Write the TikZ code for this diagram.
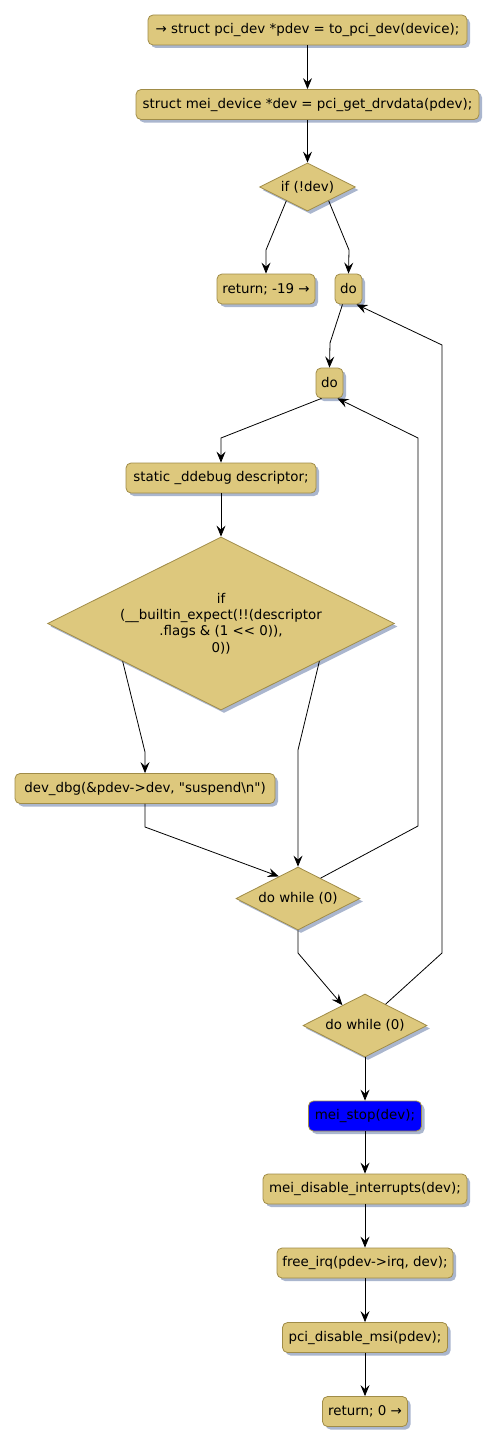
\documentclass[tikz,border=0pt]{standalone}
\usepackage{fontspec}
\newfontfamily\diagfont{DejaVu Sans}
\usetikzlibrary{shapes.geometric,arrows.meta,shadows}
\definecolor{khaki}{RGB}{221,200,125}
\definecolor{khakiline}{RGB}{160,140,72}
\definecolor{shadowblue}{RGB}{170,182,206}
\definecolor{stopblue}{RGB}{0,0,255}

\begin{document}
\begin{tikzpicture}[x=1pt,y=-1pt,
        every node/.style={font=\diagfont\fontsize{13.4}{16.3}\selectfont},
        stmt/.style={draw=khakiline,fill=khaki,rounded corners=5pt,
          minimum height=30pt,inner xsep=3pt,line width=0.8pt,
          drop shadow={shadow xshift=3pt,shadow yshift=-3pt,fill=shadowblue,opacity=1}},
        cond/.style={diamond,aspect=2,draw=khakiline,fill=khaki,inner sep=0pt,
          align=center,line width=0.8pt,
          drop shadow={shadow xshift=3pt,shadow yshift=-3pt,fill=shadowblue,opacity=1}},
        flow/.style={-{Stealth[length=11pt,width=9pt,inset=4pt]},line width=0.8pt}]
        \useasboundingbox (0,0) rectangle (498,1445);

        % STATEMENTS
        \node[stmt,minimum width=319pt] (topdev) at (307.5,30)
          {→ struct pci\_dev *pdev = to\_pci\_dev(device);};
        \node[stmt,minimum width=343pt] (getdev) at (307.5,104.5)
          {struct mei\_device *dev = pci\_get\_drvdata(pdev);};

        % if (!dev)
        \node[cond,minimum width=96pt,minimum height=48pt] (ifdev) at (307.5,187)
          {if (!dev)};
        \node[stmt,minimum width=98pt] (ret19) at (266,289) {return; -19 →};
        \node[stmt,minimum width=27pt] (doouter) at (348.5,289) {do};
        \node[stmt,minimum width=27pt] (doinner) at (329.5,383) {do};
        \node[stmt,minimum width=190pt] (desc) at (221,478)
          {static \_ddebug descriptor;};

        % if (__builtin_expect(...))
        \node[cond,minimum width=347pt,minimum height=173pt] (ifflags) at (221,623.5)
          {if\\(\_\_builtin\_expect(!!(descriptor\\.flags \& (1 <{}< 0)),\\0))};
        \node[stmt,minimum width=260pt] (dbg) at (145,788.5)
          {dev\_dbg(\&pdev->dev, \textquotedbl suspend\textbackslash n\textquotedbl)};

        % do while
        \node[cond,minimum width=124pt,minimum height=63pt] (whileinner) at (298,898.5)
          {do while (0)};
        \node[cond,minimum width=124pt,minimum height=63pt] (whileouter) at (365,1025.5)
          {do while (0)};

        % TAIL
        \node[stmt,fill=stopblue,minimum width=113pt] (stop) at (365,1116) {mei\_stop(dev);};
        \node[stmt,minimum width=204pt] (disint) at (365,1189) {mei\_disable\_interrupts(dev);};
        \node[stmt,minimum width=176pt] (freeirq) at (365,1263) {free\_irq(pdev->irq, dev);};
        \node[stmt,minimum width=165pt] (nomsi) at (365,1337.5) {pci\_disable\_msi(pdev);};
        \node[stmt,minimum width=85pt] (ret0) at (365,1411.5) {return; 0 →};

        % ARROWS
        \draw[flow] (topdev) -- (getdev);
        \draw[flow] (getdev) -- (ifdev);
        \draw[flow] (ifdev.213) -- (266,250) -- (ret19.north);
        \draw[flow] (ifdev.327) -- (349,250) -- (doouter.north);
        \draw[flow] ([xshift=-6pt]doouter.south) -- (330,343) -- (doinner.north);
        \draw[flow] ([xshift=-8pt]doinner.south) -- (221,438) -- (desc.north);
        \draw[flow] (desc) -- (ifflags);
        \draw[flow] (ifflags.201) -- (145,752) -- (dbg.north);
        \draw[flow] (ifflags.339) -- (298,750) -- (whileinner.north);
        \draw[flow] (dbg.south) -- (145,827) -- (whileinner.131);
        \draw[flow] (whileinner.south) -- (298,953) -- (whileouter.138);

        % back edges of the loops
        \draw[flow] (whileinner.42) -- (418,826) -- (418,438) -- ([xshift=8pt]doinner.south);
        \draw[flow] (whileouter.46) -- (442,953) -- (442,345) -- ([xshift=8pt]doouter.south);

        \draw[flow] (whileouter) -- (stop);
        \draw[flow] (stop) -- (disint);
        \draw[flow] (disint) -- (freeirq);
        \draw[flow] (freeirq) -- (nomsi);
        \draw[flow] (nomsi) -- (ret0);
      \end{tikzpicture}
\end{document}
